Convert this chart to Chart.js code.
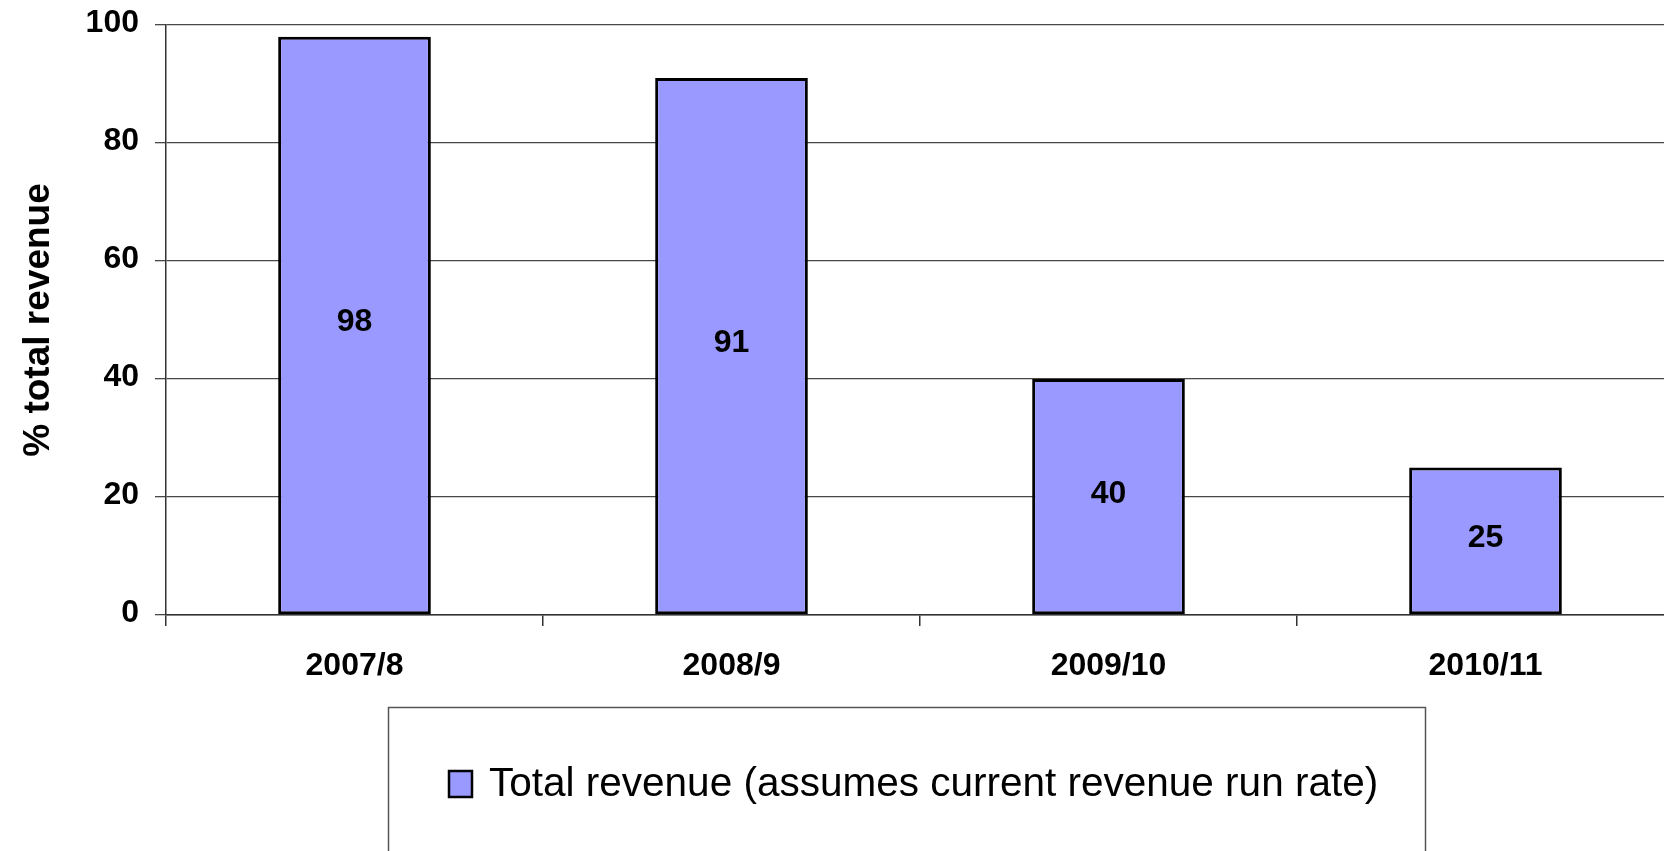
<!DOCTYPE html>
<html>
<head>
<meta charset="utf-8">
<title>% total revenue</title>
<script src="https://cdn.jsdelivr.net/npm/chart.js@4.4.1/dist/chart.umd.min.js"></script>
<style>
  html, body { margin: 0; padding: 0; background: #ffffff; overflow: hidden; }
  #wrap { width: 1674px; height: 851px; }
  canvas { display: block; }
</style>
</head>
<body>
<div id="wrap"><canvas id="chart" width="1674" height="851"></canvas></div>
<script>
// Season labels, revenue share per season and the value axis ticks
const seasons = ['2007/8', '2008/9', '2009/10', '2010/11'];
const revenueShare = [98, 91, 40, 25];
const yTickValues = [0, 20, 40, 60, 80, 100];
const seriesLabel = 'Total revenue (assumes current revenue run rate)';
const yAxisTitle = '% total revenue';

const FONT = "'Liberation Sans', Arial, Helvetica, sans-serif";
const BAR_FILL = '#9999ff';

// Writes each bar's value in the middle of the bar
const barValueLabels = {
  id: 'barValueLabels',
  afterDatasetsDraw(chart) {
    const ctx = chart.ctx;
    const ds = chart.data.datasets[0];
    const meta = chart.getDatasetMeta(0);
    ctx.save();
    ctx.font = 'bold 32px ' + FONT;
    ctx.fillStyle = '#000000';
    ctx.textAlign = 'center';
    ctx.textBaseline = 'middle';
    meta.data.forEach((bar, i) => {
      const p = bar.getProps(['x', 'y', 'base'], true);
      ctx.fillText(String(ds.data[i]), p.x, (p.y + p.base) / 2 - 3);
    });
    ctx.restore();
  }
};

// Boxed legend below the category axis
const framedLegend = {
  id: 'framedLegend',
  afterDraw(chart) {
    const ctx = chart.ctx;
    const ds = chart.data.datasets[0];
    ctx.save();
    ctx.strokeStyle = '#555555';
    ctx.lineWidth = 1.5;
    ctx.strokeRect(388.5, 707.5, 1037, 220);
    ctx.fillStyle = ds.backgroundColor;
    ctx.fillRect(449, 771, 23, 26);
    ctx.strokeStyle = '#000000';
    ctx.lineWidth = 2.5;
    ctx.strokeRect(449, 771, 23, 26);
    ctx.font = '40.5px ' + FONT;
    ctx.fillStyle = '#000000';
    ctx.textAlign = 'left';
    ctx.textBaseline = 'alphabetic';
    ctx.fillText(ds.label, 489, 796);
    ctx.restore();
  }
};

new Chart(document.getElementById('chart'), {
  type: 'bar',
  data: {
    labels: seasons,
    datasets: [{
      label: seriesLabel,
      data: revenueShare,
      backgroundColor: BAR_FILL,
      borderColor: '#000000',
      borderWidth: 3,
      borderSkipped: false,
      barPercentage: 0.405,
      categoryPercentage: 1.0
    }]
  },
  options: {
    responsive: false,
    animation: false,
    devicePixelRatio: 1,
    layout: { padding: { top: 25, right: 0, bottom: 0, left: 0 } },
    plugins: {
      legend: { display: false },
      tooltip: { enabled: false }
    },
    scales: {
      x: {
        offset: true,
        grid: {
          offset: true,
          drawOnChartArea: false,
          drawTicks: true,
          tickLength: 11,
          color: '#333333',
          lineWidth: 1.5
        },
        border: { display: true, color: '#333333', width: 1.5 },
        ticks: {
          color: '#000000',
          font: { family: FONT, size: 32, weight: 'bold' },
          padding: 21,
          maxRotation: 0,
          autoSkip: false
        },
        afterFit(scale) { scale.height = 236; }
      },
      y: {
        min: 0,
        max: 100,
        afterBuildTicks(scale) { scale.ticks = yTickValues.map(v => ({ value: v })); },
        grid: {
          color: '#484848',
          lineWidth: 1.3,
          drawTicks: true,
          tickLength: 11
        },
        border: { display: true, color: '#333333', width: 1.5 },
        ticks: {
          color: '#000000',
          font: { family: FONT, size: 32, weight: 'bold' },
          padding: 16,
          labelOffset: -2
        },
        title: {
          display: true,
          text: yAxisTitle,
          color: '#000000',
          font: { family: FONT, size: 37, weight: 'bold' },
          padding: { top: 17, bottom: 0 }
        },
        afterFit(scale) {
          scale.width = 166;
          scale.paddingTop = 0;
          scale.paddingBottom = 0;
        }
      }
    }
  },
  plugins: [barValueLabels, framedLegend]
});
</script>
</body>
</html>
